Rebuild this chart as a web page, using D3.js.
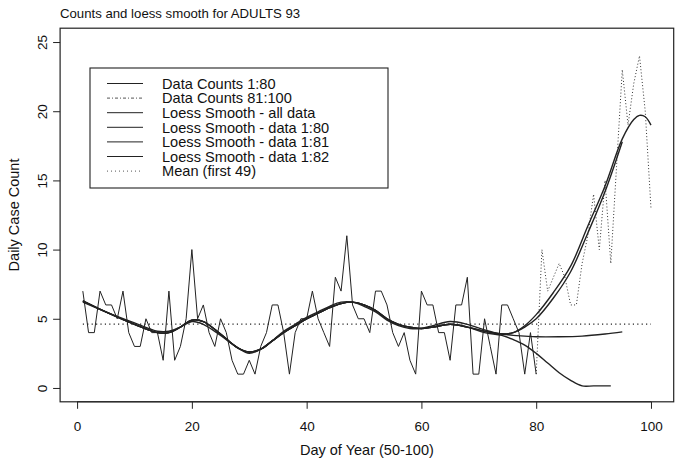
<!DOCTYPE html>
<html><head><meta charset="utf-8">
<script src="https://cdn.jsdelivr.net/npm/d3@7"></script>
<style>
body{margin:0;background:#fff}
svg{display:block}
text{font-family:"Liberation Sans",Arial,sans-serif;fill:#111}
</style>
</head><body>
<svg id="c" width="679" height="461"></svg>
<script>
// ---- data ----
const titleText = "Counts and loess smooth for ADULTS 93";
const xTitle = "Day of Year (50-100)";
const yTitle = "Daily Case Count";
const xTicks = [0, 20, 40, 60, 80, 100];
const yTicks = [0, 5, 10, 15, 20, 25];

// Data counts, days 1..80
const counts1to80 = [7,4,4,7,6,6,5,7,4,3, 3,5,4,4,2,7,2,3,5,10,
                     5,6,4,3,5,4,2,1,1,2, 1,3,4,6,6,4,1,4,5,5,
                     7,5,4,3,8,7,11,6,5,5, 4,7,7,6,4,3,4,2,1,7,
                     6,6,4,4,2,6,6,8,1,1, 5,3,1,6,6,5,4,1,4,1];
// Data counts, days 80..100 (drawn from day 80)
const counts81to100Start = 80;
const counts81to100 = [1,10,7,8,9,8,6,6,9,11,14,10,15,9,16,23,19,22,24,20,13];

// Mean of first 49 days, drawn over days 1..100
const meanFirst49 = [4.61];
const meanSpan = [1, 100];

// Loess smooths as [day, value]
const loessAll = [[1,6.2],[5,5.5],[10,4.7],[14,4.1],[16,4.1],[18,4.4],[20,4.8],[22,4.6],[25,3.8],
  [28,2.9],[30,2.5],[32,2.8],[34,3.4],[36,4.1],[38,4.6],[40,5.1],[42,5.5],[44,5.9],[46,6.2],
  [48,6.2],[50,5.9],[52,5.5],[54,4.9],[56,4.5],[58,4.3],[60,4.3],[62,4.5],[65,4.8],[68,4.6],
  [71,4.2],[74,3.9],[76,4.0],[78,4.5],[80,5.3],[83,6.9],[86,8.8],[89,11.7],[92,14.6],[95,18.0],
  [97,19.4],[98,19.7],[99,19.6],[100,19.0]];
const loess1to80 = [[1,6.3],[5,5.5],[10,4.6],[14,4.0],[16,4.0],[18,4.4],[20,4.9],[22,4.8],[25,3.9],
  [28,2.9],[30,2.6],[32,2.8],[34,3.4],[36,4.0],[38,4.5],[40,5.0],[42,5.4],[44,5.8],[46,6.1],
  [48,6.2],[50,6.0],[52,5.6],[54,5.0],[56,4.6],[58,4.4],[60,4.3],[62,4.4],[65,4.6],[68,4.4],
  [71,4.0],[74,3.8],[76,3.5],[78,3.1],[80,2.5],[82,1.8],[84,1.1],[86,0.55],[88,0.15],[90,0.15],[93,0.15]];
const loess1to81 = [[1,6.3],[5,5.5],[10,4.6],[14,4.0],[16,4.0],[18,4.4],[20,4.9],[22,4.8],[25,3.9],
  [28,2.9],[30,2.6],[32,2.8],[34,3.4],[36,4.0],[38,4.5],[40,5.0],[42,5.4],[44,5.8],[46,6.1],
  [48,6.2],[50,6.0],[52,5.6],[54,5.0],[56,4.6],[58,4.4],[60,4.3],[62,4.4],[65,4.6],[68,4.4],
  [71,4.1],[74,3.9],[76,3.8],[78,3.75],[80,3.7],[84,3.7],[88,3.75],[92,3.9],[95,4.05]];
const loess1to82 = [[1,6.3],[5,5.5],[10,4.6],[14,4.0],[16,4.0],[18,4.4],[20,4.9],[22,4.8],[25,3.9],
  [28,2.9],[30,2.6],[32,2.8],[34,3.4],[36,4.0],[38,4.5],[40,5.0],[42,5.4],[44,5.8],[46,6.1],
  [48,6.2],[50,6.0],[52,5.6],[54,5.0],[56,4.6],[58,4.4],[60,4.3],[62,4.4],[65,4.6],[68,4.4],
  [71,4.1],[74,3.9],[76,4.0],[78,4.4],[80,5.0],[83,6.5],[86,8.4],[89,11.2],[92,14.2],[95,17.8]];

const legendLabels = ["Data Counts 1:80","Data Counts 81:100","Loess Smooth - all data",
  "Loess Smooth - data 1:80","Loess Smooth - data 1:81","Loess Smooth - data 1:82","Mean (first 49)"];
const legendDash = [null,"3,2,1,2",null,null,null,null,"1,3"];

// ---- drawing ----
const svg = d3.select("#c");
const ink = "#222";
const x = d3.scaleLinear().domain([-2.96, 103.96]).range([60.1, 673.7]);
const y = d3.scaleLinear().domain([-1, 26]).range([401.8, 28.2]);

// title
svg.append("text").attr("x", 60).attr("y", 18).attr("font-size", 13.2).text(titleText);

// plot box
svg.append("rect").attr("x", x(-2.96)).attr("y", y(26)).attr("width", x(103.96)-x(-2.96))
  .attr("height", y(-1)-y(26)).attr("fill","none").attr("stroke", ink).attr("stroke-width",1.2);

// x axis
const gx = svg.append("g").attr("transform", `translate(0,${y(-1)})`)
  .call(d3.axisBottom(x).tickValues(xTicks).tickSize(7).tickPadding(13).tickSizeOuter(0));
gx.select(".domain").remove();
gx.selectAll("line").attr("stroke", ink);
gx.selectAll("text").attr("font-size", 13.5).attr("fill","#111")
  .attr("font-family",'"Liberation Sans",Arial,sans-serif');
svg.append("line").attr("x1", x(0)).attr("x2", x(100)).attr("y1", y(-1)).attr("y2", y(-1)).attr("stroke", ink);

// y axis
const gy = svg.append("g").attr("transform", `translate(${x(-2.96)},0)`)
  .call(d3.axisLeft(y).tickValues(yTicks).tickSize(7).tickSizeOuter(0));
gy.select(".domain").remove();
gy.selectAll("line").attr("stroke", ink);
gy.selectAll("text").attr("x", 0).attr("dy", 0).attr("text-anchor","middle")
  .attr("transform","translate(-13.5,0) rotate(-90)")
  .attr("font-size", 13.5).attr("fill","#111")
  .attr("font-family",'"Liberation Sans",Arial,sans-serif');

// axis titles
svg.append("text").attr("x", (x(-2.96)+x(103.96))/2).attr("y", 455).attr("text-anchor","middle")
  .attr("font-size", 14.5).text(xTitle);
svg.append("text").attr("transform", `translate(19,${(y(-1)+y(26))/2}) rotate(-90)`)
  .attr("text-anchor","middle").attr("font-size", 14.5).text(yTitle);

// lines
const lineIdx = d3.line().x((d,i) => x(i+1)).y(d => y(d));
const lineIdx2 = d3.line().x((d,i) => x(counts81to100Start+i)).y(d => y(d));
const smooth = d3.line().x(d => x(d[0])).y(d => y(d[1])).curve(d3.curveCatmullRom.alpha(0.5));

// mean line
svg.append("line").attr("x1", x(meanSpan[0])).attr("x2", x(meanSpan[1]))
  .attr("y1", y(meanFirst49[0])).attr("y2", y(meanFirst49[0]))
  .attr("stroke", ink).attr("stroke-width", 1.1).attr("stroke-dasharray","1.2,3.2");

// data 81:100 dotted
svg.append("path").attr("d", lineIdx2(counts81to100)).attr("fill","none")
  .attr("stroke", "#333").attr("stroke-width", 1).attr("stroke-dasharray","1,2.2");

// data 1:80
svg.append("path").attr("d", lineIdx(counts1to80)).attr("fill","none")
  .attr("stroke", ink).attr("stroke-width", 1).attr("stroke-linejoin","miter");

// smooths
[loess1to80, loess1to81, loess1to82, loessAll].forEach(s => {
  svg.append("path").attr("d", smooth(s)).attr("fill","none")
    .attr("stroke", ink).attr("stroke-width", 1.4);
});

// legend
const lg = svg.append("g");
lg.append("rect").attr("x", 90).attr("y", 68).attr("width", 298).attr("height", 120)
  .attr("fill","#fff").attr("stroke", ink).attr("stroke-width", 1.1);
legendLabels.forEach((lab, i) => {
  const yy = 83.5 + i*14.6;
  const l = lg.append("line").attr("x1",107).attr("x2",143).attr("y1",yy).attr("y2",yy)
    .attr("stroke", legendDash[i] ? "#555" : ink).attr("stroke-width",1);
  if (legendDash[i]) l.attr("stroke-dasharray", legendDash[i]);
  lg.append("text").attr("x",162).attr("y",yy).attr("dy","0.36em").attr("font-size",14.6).text(lab);
});
</script>
</body></html>
